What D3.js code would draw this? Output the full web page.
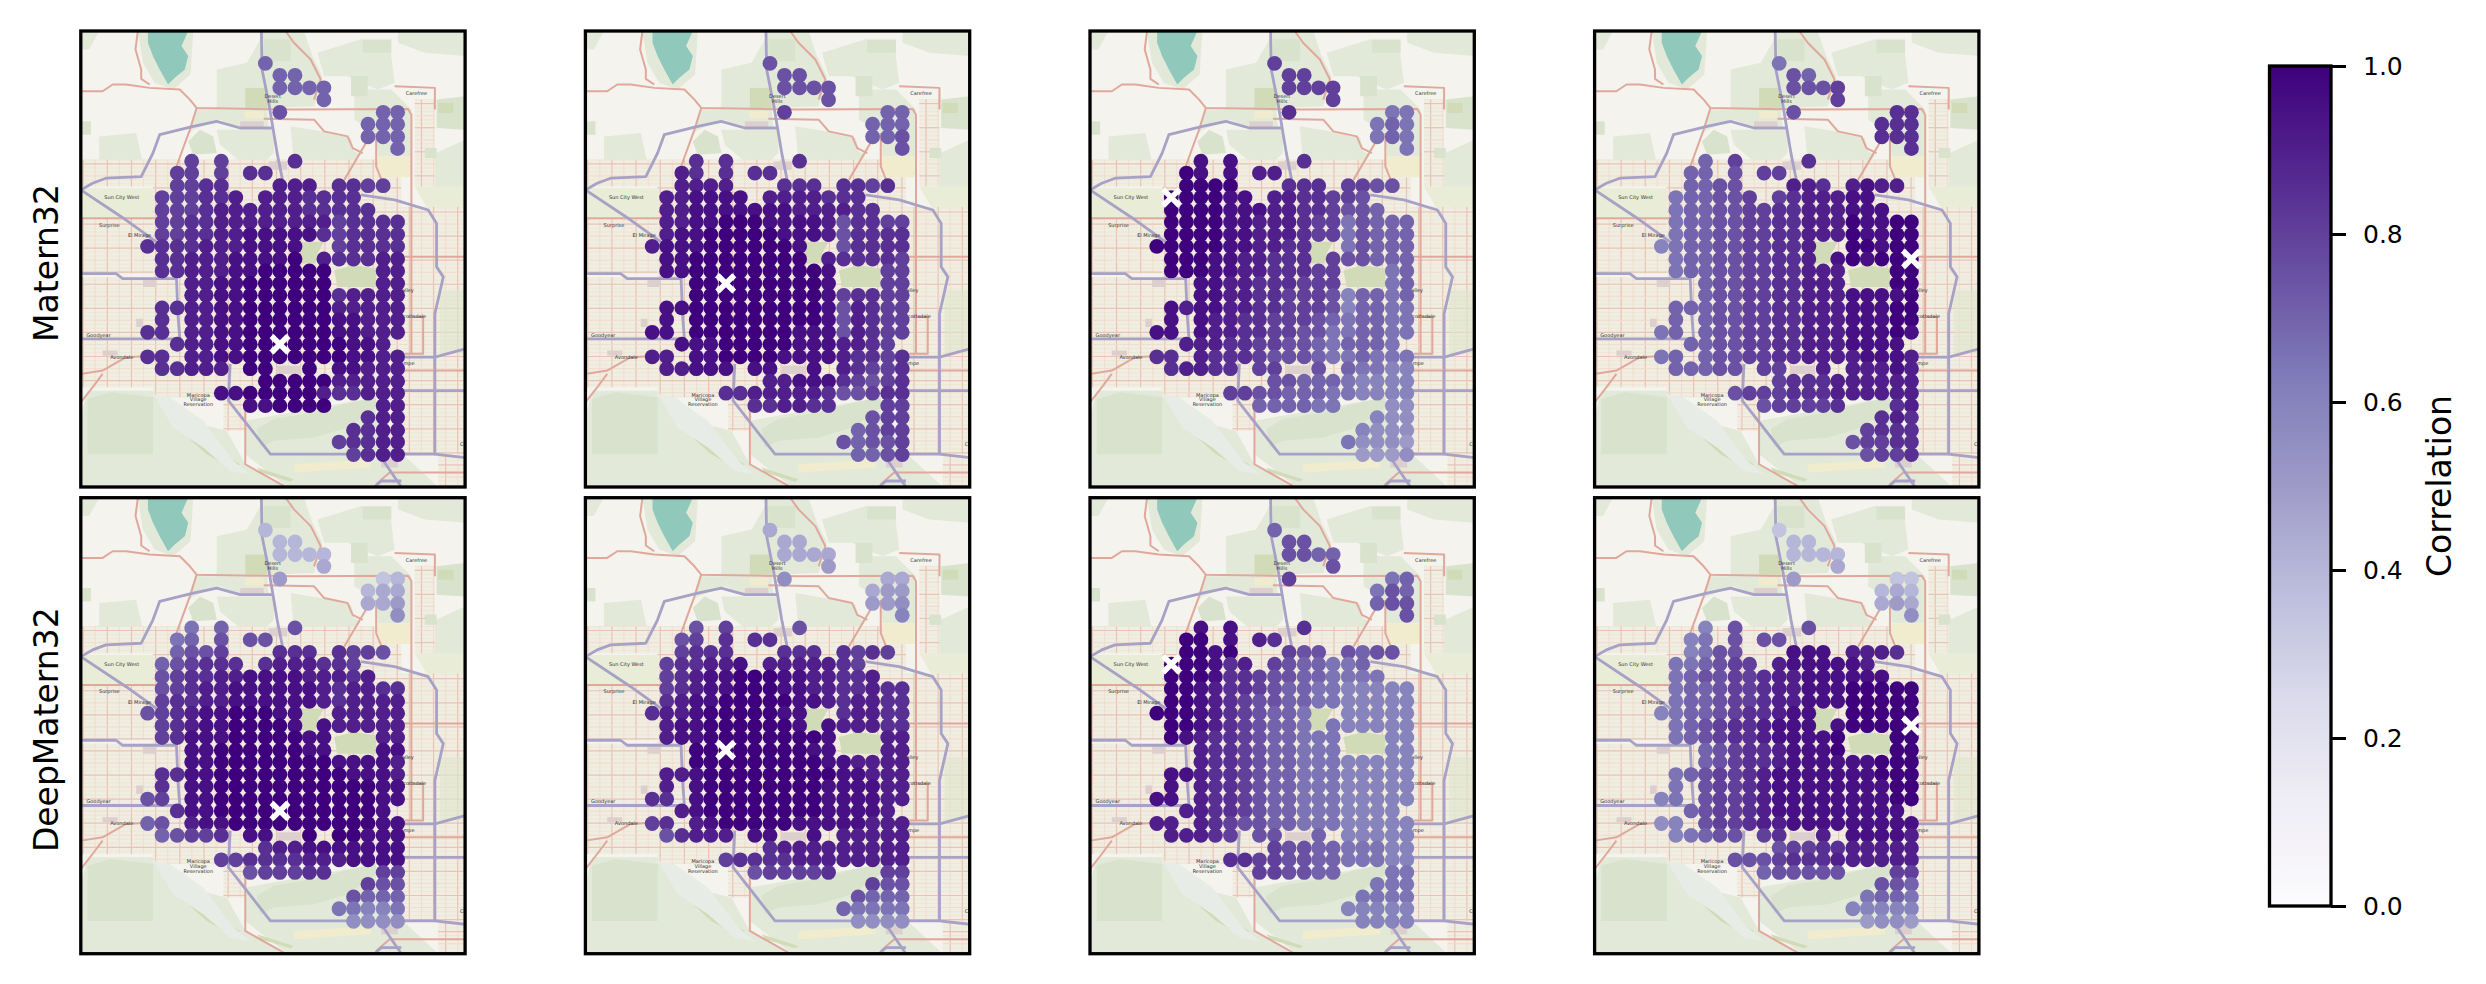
<!DOCTYPE html>
<html>
<head>
<meta charset="utf-8">
<title>Correlation maps</title>
<script src="https://cdnjs.cloudflare.com/ajax/libs/d3/7.8.5/d3.min.js"></script>
<style>
  html, body { margin: 0; padding: 0; background: #fff; }
  svg { display: block; }
  text { font-family: "DejaVu Sans", sans-serif; fill: #000; }
  .town { font-size: 5px; fill: #333; }
  .axis text { font-size: 25px; }
  .axis path { display: none; }
  .axis line { stroke: #000; stroke-width: 3px; }
</style>
</head>
<body>
<div id="chart"></div>
<script>
// grid of sensor locations
var lons = [-112.303, -112.282, -112.260, -112.239, -112.218, -112.196, -112.175, -112.154, -112.132,
  -112.111, -112.089, -112.068, -112.047, -112.025, -112.004, -111.983, -111.961, -111.940]
var lats = [33.875, 33.857, 33.838, 33.820, 33.801, 33.783, 33.764, 33.746, 33.727, 33.709, 33.690,
  33.672, 33.653, 33.635, 33.616, 33.598, 33.579, 33.561, 33.542, 33.524, 33.505, 33.487, 33.468,
  33.450, 33.431, 33.413, 33.394, 33.376, 33.357, 33.339, 33.320, 33.302, 33.283]

var rowNames = ["Matern32", "DeepMatern32"]
var colorbarTicks = [0, 0.2, 0.4, 0.6, 0.8, 1.0]

// reference point of each column of panels, as index into lons / lats
var targetCols = [9, 5, 1, 17]
var targetRows = [23, 18, 11, 16]

// correlation per grid cell, one letter per column: a=.25 b=.30 ... p=1.0, "." = no sensor
var levels = "abcdefghijklmnop"

var matern1 = [
  "........j.........",
  ".........jj.......",
  ".........jjjj.....",
  "............j.....",
  ".........k......jj",
  "...............jjj",
  "...............jjj",
  ".................j",
  "...l.l....m.......",
  "..ll.l.mm.........",
  "..llmm...nnn.mmll.",
  ".lllmmn.nnnmmmm...",
  ".lllmnnnnnnmmmmm..",
  ".llmmnnnnnnnnlmmmm",
  ".llmmnnooooomlmmmm",
  "mmmmnnnoooo..lmmmm",
  ".mmnnnoooop.nmmmnn",
  ".mmnnnooppppp...nn",
  "...nnoopppppp...nn",
  "...nnooppppppmnnnn",
  ".mmnnooppppppnnnnn",
  ".m.nnooppppppoonnn",
  "mm.nnooppppppoonnn",
  "..mnnoopppppppoon.",
  "mm.nnoopppppppoonn",
  ".mmnnn.pp..p.oonnn",
  "........pppppnnnnn",
  ".....oopppppnmmnnn",
  ".......oopppp...nn",
  "...............mnn",
  "..............mmnn",
  ".............lmmnn",
  "..............lmnn"
]

var matern2 = [
  "........k.........",
  ".........kk.......",
  ".........kkkk.....",
  "............k.....",
  ".........l......jj",
  "...............jjj",
  "...............jjk",
  ".................k",
  "...m.m....m.......",
  "..nm.m.mm.........",
  "..nnnn...mmm.mmlm.",
  ".nnoooo.nnnnmmm...",
  ".nnooooooonnnnmm..",
  ".nnoopppoooonkmmll",
  ".noopppppooonkmmmm",
  "noooppppppo..kmmmm",
  ".oopppppppp.nmmmml",
  ".oopppppppppo...ll",
  "...pppppppppo...ll",
  "...pppppppppolmmll",
  ".oopppppppppoknmll",
  ".o.pppppppppoknmll",
  "oo.pppppppoooknmll",
  "..ooopppppooonnml.",
  "nn.ooppppoooonmmlm",
  ".nnooo.oo..o.nmllm",
  "........nnooomlklm",
  ".....mmnnnnnmkklmm",
  ".......mmnnmm...ll",
  "...............kll",
  "..............jkll",
  ".............kjkkl",
  "..............jjkl"
]

var matern3 = [
  "........l.........",
  ".........ll.......",
  ".........llll.....",
  "............l.....",
  ".........m......ii",
  "...............iji",
  "...............iji",
  ".................i",
  "...o.o....m.......",
  "..po.o.nn.........",
  "..pppp...mmm.llkk.",
  ".ppppoo.nnmmllk...",
  ".ppppooonnmmlkkj..",
  ".ppppoonnnmllikjjj",
  ".ppppoonnnmllikjjj",
  "pppppoonnmm..ikjjj",
  ".pppoonnmmm.lkkjjj",
  ".pppoonnmmmll...ij",
  "...oonnmmmlll...ij",
  "...oonnmmlllkhjjij",
  ".onoonnmmlllkhjjii",
  ".o.onnmmlllkjijjii",
  "oo.onnmmllkkiijjii",
  "..nnnmmllkkjijjji.",
  "mm.nmmmlkkkjiijiii",
  ".mnnmm.ll..k.jiihh",
  "........kkjjjihhhh",
  ".....llkkjjjiihhhh",
  ".......jjjjii...gg",
  "...............hgg",
  "..............hggg",
  ".............igggf",
  "..............fffg"
]

var matern4 = [
  "........i.........",
  ".........kj.......",
  ".........kkkl.....",
  "............l.....",
  ".........k......mm",
  "...............mmm",
  "...............mmm",
  ".................m",
  "...j.l....m.......",
  "..jj.k.ll.........",
  "..jjkk...nnm.nonn.",
  ".ijjkkl.lmnnnoo...",
  ".ijjkkllmmnnnooo..",
  ".ijjkkllmmnnnpoopp",
  ".ijjkkllmmnnnpoopp",
  "hijjkkllmmn..ppopp",
  ".ijjkkllmmn.opoppp",
  ".ijjkkllmmnnn...pp",
  "...jkkllmmnnn...pp",
  "...jkkllmmnnnoooop",
  ".jjjkkllmmnnnooopp",
  ".j.jkkllmmnnnooopp",
  "ij.jkkllmmnnnooopo",
  "..jjkkllmmnnnoooo.",
  "ij.jkkllmmnnnnooon",
  ".jjjkk.ll..n.nnnon",
  "........lmmmnnnnnn",
  ".....klllmmmnnnnnn",
  ".......kllllm...mn",
  "...............mnm",
  "..............lmmm",
  ".............kllmm",
  "..............kllm"
]

var deep1 = [
  "........d.........",
  ".........dd.......",
  ".........dddd.....",
  "............e.....",
  ".........f......cd",
  "...............dee",
  "...............eef",
  ".................g",
  "...i.j....k.......",
  "..ij.k.kk.........",
  "..jkkl...mmm.mllk.",
  ".jklmmm.mnnnmml...",
  ".klmmnnoooonnnmn..",
  ".klmnnoooooonmnnmm",
  ".lmmnnoooooonmnnnn",
  "klmnoopppoo..nnnnn",
  ".lmnooppppo.onnnnn",
  ".lmooopppppoo...nn",
  "...ooppppppoo...oo",
  "...ooppppppppoooon",
  ".mmoopppppppppooon",
  ".m.oopppppppppppoo",
  "kl.oopppppppppppoo",
  "..moopppppppppppo.",
  "jk.nooppppppppppoo",
  ".jkllm.oo..p.ppooo",
  "........mnnooooooo",
  ".....llmmmmnnnoooo",
  ".......klllmm...ll",
  "...............lkk",
  "..............kjjj",
  ".............iihhi",
  "..............gggg"
]

var deep2 = [
  "........e.........",
  ".........ee.......",
  ".........eeee.....",
  "............f.....",
  ".........g......ee",
  "...............eff",
  "...............ffg",
  ".................h",
  "...k.l....k.......",
  "..kl.m.mm.........",
  "..lmmm...mmm.mlml.",
  ".lmmnno.nnnnnml...",
  ".lmnoopppoonnmmn..",
  ".lmnoopppoonnmmnmm",
  ".mnoopppppoonmnnmm",
  "mnnopppppoo..mnnmm",
  ".nooppppppo.onnnmm",
  ".nooppppppppo...nn",
  "...ppppppppoo...nn",
  "...pppppppppoonnnn",
  ".nnopppppppppoonnn",
  ".n.oppppppppoooonn",
  "mm.oppppppppoooonn",
  "..noppppppppoooon.",
  "lm.nopppppooooonnn",
  ".kmnnn.oo..o.nnnnn",
  "........mnnnnnnnnn",
  ".....lmmmmnnnnnnnn",
  ".......kllllm...ll",
  "...............lkk",
  "..............kjjj",
  ".............jiiii",
  "..............gggg"
]

var deep3 = [
  "........j.........",
  ".........kk.......",
  ".........kkjj.....",
  "............k.....",
  ".........l......ij",
  "...............ikj",
  "...............jkk",
  ".................k",
  "...o.o....m.......",
  "..pp.o.nm.........",
  "..ppop...lkk.kjkk.",
  ".pppomn.lkjjiij...",
  ".pppommlkkjjiiii..",
  ".pponmmlkjjiihhhhh",
  ".pponmlkkjjiihhhhh",
  "ppponmlkjji..hhhhh",
  ".pponmlkjji.ihhhhh",
  ".ponmmlkjjiii...hh",
  "...nmmlkjjiii...hh",
  "...nmmlkjjiiihhhhh",
  ".oonmmlkjjiiihhhhh",
  ".o.nmmlkjjiiihhhhh",
  "oo.nmmlkjjiiihhhhh",
  "..nnmmlkjjiiihhhh.",
  "nn.nmlkkjjiiihhhhh",
  ".nnnml.kk..j.hhhhh",
  "........lkkjjiiihh",
  ".....mmllkkjjiiihh",
  ".......llkkjj...ii",
  "...............iii",
  "..............iiii",
  ".............hhhhh",
  "..............hhhh"
]

var deep4 = [
  "........c.........",
  ".........dd.......",
  ".........dddd.....",
  "............e.....",
  ".........f......cc",
  "...............ded",
  "...............efe",
  ".................g",
  "...h.k....k.......",
  "..hi.k.kk.........",
  "..hikk...ooo.nnnm.",
  ".iijkll.nooooon...",
  ".ijkkllmnnoooooo..",
  ".ijjkllmnnoooppppp",
  ".ijjkllmnnoooppppp",
  "hijjklmmnoo..ppppp",
  ".ijklmmnooo.oppppp",
  ".ijklmmnoooop...pp",
  "...jklmmnooop...pp",
  "...jklmmnooooooppp",
  ".ijkllmnoooooooppp",
  ".i.kllmnoooooooopp",
  "hi.kllmnoooooooopp",
  "..jkllmnooooooooo.",
  "gh.kllmnnooooooooo",
  ".hijkk.lm..n.oooon",
  "........kllmmnnnnn",
  ".....kkklmmmnnnnnn",
  ".......jkkkkk...ll",
  "...............kkj",
  "..............ijji",
  ".............hhhhh",
  "..............fggf"
]

var panels = [
  [matern1, matern2, matern3, matern4],
  [deep1, deep2, deep3, deep4]
]

// basemap features, in map units of the tile picture
var greenAreas = [
  [[1010, 35], [1210, 35], [1210, 110], [1090, 100], [1010, 70]],
  [[770, 100], [900, 60], [990, 60], [990, 110], [1000, 190], [950, 210], [900, 190], [860, 170], [790, 170]],
  [[470, 150], [560, 130], [600, 60], [610, 35], [730, 35], [755, 110], [785, 170], [760, 260], [620, 265], [470, 265]],
  [[410, 270], [620, 270], [625, 325], [540, 325], [480, 300], [400, 330], [385, 345], [395, 300]],
  [[470, 330], [640, 330], [640, 400], [600, 440], [540, 425], [480, 375]],
  [[690, 320], [780, 335], [870, 355], [880, 395], [900, 405], [850, 470], [770, 470], [700, 430]],
  [[880, 210], [990, 210], [1050, 270], [1050, 410], [950, 410], [945, 340], [880, 300]],
  [[1100, 410], [1210, 360], [1210, 560], [1120, 560]],
  [[65, 1190], [85, 1110], [280, 1110], [380, 1200], [500, 1230], [555, 1330], [680, 1398], [65, 1398]],
  [[555, 1200], [945, 1130], [945, 1180], [1030, 1305], [1130, 1398], [680, 1398], [555, 1300]],
  [[520, 490], [635, 470], [640, 520], [520, 520]],
  [[65, 90], [90, 90], [120, 35], [65, 35]],
  [[120, 350], [230, 340], [250, 430], [120, 420]],
  [[235, 35], [400, 35], [392, 165], [340, 210], [285, 190], [250, 130]]
]
var darkGreenAreas = [
  [[610, 60], [690, 60], [690, 125], [610, 125]],
  [[905, 62], [990, 62], [990, 100], [905, 100]],
  [[870, 170], [920, 170], [920, 230], [870, 230]],
  [[1125, 240], [1210, 230], [1210, 330], [1125, 325]],
  [[385, 365], [420, 330], [460, 350], [470, 400], [400, 405]],
  [[85, 1135], [155, 1115], [280, 1130], [280, 1300], [85, 1300]],
  [[590, 1225], [640, 1195], [760, 1175], [850, 1150], [945, 1130], [945, 1160], [860, 1220], [760, 1250], [640, 1260], [600, 1280]],
  [[65, 305], [95, 305], [95, 345], [65, 345]],
  [[1090, 385], [1125, 385], [1125, 415], [1090, 415]]
]
var oliveAreas = [
  [[555, 205], [620, 205], [620, 265], [555, 265]],
  [[820, 750], [880, 735], [945, 745], [945, 800], [830, 800]],
  [[720, 665], [790, 665], [770, 700], [765, 730], [720, 730]],
  [[1130, 250], [1175, 250], [1175, 280], [1130, 280]],
  [[400, 1240], [460, 1290], [540, 1330], [520, 1345], [440, 1300], [390, 1255]],
  [[590, 1340], [700, 1375], [690, 1382], [600, 1355]]
]
var yellowAreas = [
  [[555, 275], [610, 275], [610, 297], [555, 297]],
  [[950, 410], [1050, 410], [1050, 472], [950, 472]],
  [[700, 1330], [930, 1315], [930, 1340], [700, 1355]]
]
var suburbAreas = [
  [[65, 505], [285, 505], [285, 592], [65, 592]],
  [[1060, 500], [1210, 500], [1210, 620], [1130, 620]],
  [[1135, 810], [1210, 810], [1210, 1000], [1135, 1000]]
]
var waterAreas = [
  [[265, 35], [385, 35], [365, 80], [385, 110], [375, 150], [345, 175], [325, 195], [300, 150], [280, 110], [265, 70]]
]
var riverAreas = [
  [[280, 1120], [330, 1130], [430, 1200], [520, 1320], [570, 1360], [510, 1350], [430, 1280], [340, 1220]]
]
var purpleBlocks = [
  [[250, 778], [290, 778], [290, 800], [250, 800]],
  [[540, 305], [610, 305], [610, 325], [540, 325]],
  [[625, 425], [680, 425], [680, 450], [625, 450]],
  [[650, 1035], [720, 1035], [720, 1060], [650, 1060]],
  [[230, 895], [250, 895], [250, 920], [230, 920]],
  [[130, 990], [175, 990], [175, 1005], [130, 1005]],
  [[960, 1310], [1010, 1310], [1010, 1340], [960, 1340]]
]
// street grids: left, top, right, bottom
var streetAreas = [
  [65, 420, 280, 500],
  [65, 595, 290, 760],
  [65, 770, 350, 1100],
  [280, 420, 1020, 1130],
  [1020, 560, 1210, 1300],
  [1130, 1300, 1210, 1398],
  [1060, 240, 1120, 500],
  [490, 1130, 560, 1230]
]
var arterials = [
  [[65, 215], [130, 215], [160, 195], [200, 195], [270, 205], [360, 210], [390, 240], [410, 265], [700, 270], [1040, 268], [1050, 285], [1050, 1000]],
  [[410, 265], [390, 330], [350, 440]],
  [[610, 297], [760, 300], [790, 335], [860, 350], [875, 385], [905, 400]],
  [[850, 480], [920, 360]],
  [[945, 340], [945, 440], [965, 490]],
  [[675, 35], [700, 70], [750, 120], [780, 180], [760, 240]],
  [[235, 35], [228, 90], [245, 150], [245, 178], [270, 195]],
  [[555, 1130], [555, 1330], [670, 1395]],
  [[65, 595], [290, 595]],
  [[1030, 710], [1210, 710]],
  [[1020, 1050], [1210, 1050]],
  [[65, 1060], [130, 1050], [200, 1010], [290, 1005]],
  [[65, 1145], [100, 1100], [130, 1060]],
  [[945, 1390], [985, 1355], [1210, 1355]],
  [[1040, 890], [1085, 890], [1085, 1000], [1030, 1000]],
  [[1000, 200], [1120, 205], [1120, 270]]
]
var freeways = [
  [[603, 35], [605, 150], [625, 250], [650, 400], [668, 490]],
  [[65, 510], [100, 490], [140, 475], [245, 470], [280, 400], [300, 345], [400, 320], [470, 305], [540, 325], [640, 325]],
  [[65, 510], [200, 600], [290, 665]],
  [[900, 525], [1000, 540], [1100, 570], [1125, 610], [1125, 740], [1145, 770], [1120, 880], [1120, 1300], [1210, 1310]],
  [[65, 760], [170, 760], [190, 775], [350, 775], [355, 890], [360, 955], [65, 955]],
  [[510, 1030], [505, 1140], [630, 1300], [1120, 1300]],
  [[960, 1310], [1020, 1398]],
  [[940, 1398], [960, 1380], [1020, 1380]],
  [[1030, 1010], [1120, 1010], [1210, 985]],
  [[1020, 1110], [1210, 1110]]
]
var towns = [
  ["Sun City West", 187, 538], ["Surprise", 150, 620], ["El Mirage", 240, 652], ["Goodyear", 118, 949],
  ["Avondale", 187, 1014], ["Maricopa", 415, 1128], ["Village", 415, 1142], ["Reservation", 415, 1157],
  ["Carefree", 1065, 226], ["Desert", 637, 236], ["Hills", 637, 250], ["Scottsdale", 1055, 894],
  ["Tempe", 1035, 1034], ["Valley", 1035, 816], ["Ch", 1205, 1276]
]

var width = 2486, height = 984,
  panelWidth = 384.3, panelHeight = 456,
  panelGapX = 504.6, panelGapY = 466.7,
  panelLeft = 80.8, panelTop = 31

var svg = d3.select("#chart").append("svg")
  .attr("width", width)
  .attr("height", height)

var defs = svg.append("defs")

defs.append("clipPath").attr("id", "panel-clip")
  .append("rect")
  .attr("width", panelWidth)
  .attr("height", panelHeight)

defs.append("filter").attr("id", "soften")
  .append("feGaussianBlur")
  .attr("stdDeviation", 0.55)

// scales
var lonScale = d3.scaleLinear().domain([-112.40, -111.842]).range([0, panelWidth])
var latScale = d3.scaleLinear().domain([33.924, 33.234]).range([0, panelHeight])
var mapX = d3.scaleLinear().domain([65, 1210]).range([0, panelWidth])
var mapY = d3.scaleLinear().domain([35, 1398]).range([0, panelHeight])

var purples = d3.schemePurples[9]
var colorScale = d3.scaleLinear()
  .domain(purples.map(function(d, i) { return i / (purples.length - 1) }))
  .range(purples)

var mapLine = d3.line()
  .x(function(d) { return mapX(d[0]) })
  .y(function(d) { return mapY(d[1]) })

function drawAreas(g, areas, color) {
  g.selectAll(null)
    .data(areas)
    .enter().append("path")
    .attr("d", function(d) { return mapLine(d) + "Z" })
    .attr("fill", color)
}

function drawLines(g, lines, color, strokeWidth) {
  g.selectAll(null)
    .data(lines)
    .enter().append("path")
    .attr("d", function(d) { return mapLine(d) })
    .attr("fill", "none")
    .attr("stroke", color)
    .attr("stroke-width", strokeWidth)
    .attr("stroke-linejoin", "round")
}

function drawStreets(g) {
  streetAreas.forEach(function(a) {
    g.append("rect")
      .attr("x", mapX(a[0]))
      .attr("y", mapY(a[1]))
      .attr("width", mapX(a[2]) - mapX(a[0]))
      .attr("height", mapY(a[3]) - mapY(a[1]))
      .attr("fill", "#f1ede2")

    var xs = d3.range(Math.ceil(a[0] / 36) * 36, a[2], 36)
    var ys = d3.range(Math.ceil(a[1] / 36) * 36, a[3], 36)
    var fine = d3.range(Math.ceil(a[1] / 12) * 12, a[3], 12)

    fine.forEach(function(v) {
      g.append("path")
        .attr("d", mapLine([[a[0], v], [a[2], v]]))
        .attr("stroke", "#e6e6cf")
        .attr("stroke-width", 0.6)
    })
    xs.forEach(function(u, i) {
      g.append("path")
        .attr("d", mapLine([[u, a[1]], [u, a[3]]]))
        .attr("stroke", i % 2 ? "#f0dbcd" : "#e9c4b6")
        .attr("stroke-width", i % 2 ? 0.9 : 1.2)
    })
    ys.forEach(function(v, i) {
      g.append("path")
        .attr("d", mapLine([[a[0], v], [a[2], v]]))
        .attr("stroke", i % 2 ? "#f0dbcd" : "#e9c4b6")
        .attr("stroke-width", i % 2 ? 0.9 : 1.2)
    })
  })
}

function drawBasemap(g) {
  var map = g.append("g").attr("filter", "url(#soften)")

  map.append("rect")
    .attr("width", panelWidth)
    .attr("height", panelHeight)
    .attr("fill", "#f5f3ee")

  drawAreas(map, greenAreas, "#e2e9d9")
  drawAreas(map, suburbAreas, "#e9ecd6")
  drawStreets(map)
  drawAreas(map, suburbAreas.slice(2), "rgba(222,230,205,0.6)")
  drawAreas(map, darkGreenAreas, "#d8e2cc")
  drawAreas(map, oliveAreas, "#d2dbb8")
  drawAreas(map, yellowAreas, "#f1ecce")
  drawAreas(map, riverAreas, "#e7ede6")
  drawAreas(map, purpleBlocks, "#dccfcd")
  drawAreas(map, waterAreas, "#90c8bc")
  drawLines(map, arterials, "#e0a89b", 2)
  drawLines(map, freeways, "#a7a1c5", 2.8)

  g.selectAll(".town")
    .data(towns)
    .enter().append("text")
    .attr("class", "town")
    .attr("x", function(d) { return mapX(d[1]) })
    .attr("y", function(d) { return mapY(d[2]) })
    .attr("text-anchor", "middle")
    .text(function(d) { return d[0] })
}

function drawPanel(rowIndex, colIndex) {
  var rows = panels[rowIndex][colIndex]
  var points = []
  rows.forEach(function(row, r) {
    row.split("").forEach(function(ch, c) {
      if (ch !== ".") {
        points.push({ lon: lons[c], lat: lats[r], value: 0.25 + 0.05 * levels.indexOf(ch) })
      }
    })
  })

  var g = svg.append("g")
    .attr("transform", "translate(" + (panelLeft + colIndex * panelGapX) + "," + (panelTop + rowIndex * panelGapY) + ")")

  var inner = g.append("g").attr("clip-path", "url(#panel-clip)")
  drawBasemap(inner)

  inner.selectAll(".dot")
    .data(points)
    .enter().append("circle")
    .attr("class", "dot")
    .attr("cx", function(d) { return lonScale(d.lon) })
    .attr("cy", function(d) { return latScale(d.lat) })
    .attr("r", 7.4)
    .attr("fill", function(d) { return colorScale(d.value) })

  // white cross on the reference location
  var cx = lonScale(lons[targetCols[colIndex]]),
    cy = latScale(lats[targetRows[colIndex]]),
    armLength = 8.2,
    cross = d3.path()
  cross.moveTo(cx - armLength, cy - armLength)
  cross.lineTo(cx + armLength, cy + armLength)
  cross.moveTo(cx - armLength, cy + armLength)
  cross.lineTo(cx + armLength, cy - armLength)

  inner.append("path")
    .attr("d", cross.toString())
    .attr("fill", "none")
    .attr("stroke", "#fff")
    .attr("stroke-width", 5.5)

  g.append("rect")
    .attr("width", panelWidth)
    .attr("height", panelHeight)
    .attr("fill", "none")
    .attr("stroke", "#000")
    .attr("stroke-width", 3.3)
}

d3.range(2).forEach(function(r) {
  d3.range(4).forEach(function(c) {
    drawPanel(r, c)
  })
})

// row labels
svg.selectAll(".row-label")
  .data(rowNames)
  .enter().append("text")
  .attr("class", "row-label")
  .attr("transform", function(d, i) {
    return "translate(46," + (panelTop + panelHeight / 2 + 4 + i * panelGapY) + ") rotate(-90)"
  })
  .attr("text-anchor", "middle")
  .attr("dominant-baseline", "central")
  .style("font-size", "33px")
  .text(function(d) { return d })

// colorbar
var cbLeft = 2269.5, cbRight = 2331, cbTop = 66, cbBottom = 906

var gradient = defs.append("linearGradient")
  .attr("id", "cb-gradient")
  .attr("x1", 0).attr("x2", 0)
  .attr("y1", 1).attr("y2", 0)

gradient.selectAll("stop")
  .data(purples)
  .enter().append("stop")
  .attr("offset", function(d, i) { return i / (purples.length - 1) })
  .attr("stop-color", function(d) { return d })

svg.append("rect")
  .attr("x", cbLeft)
  .attr("y", cbTop)
  .attr("width", cbRight - cbLeft)
  .attr("height", cbBottom - cbTop)
  .attr("fill", "url(#cb-gradient)")

var cbScale = d3.scaleLinear().domain([0, 1]).range([cbBottom, cbTop])

svg.append("g")
  .attr("class", "axis")
  .attr("transform", "translate(" + cbRight + ",0)")
  .call(d3.axisRight(cbScale).tickValues(colorbarTicks).tickSize(15).tickPadding(17).tickFormat(d3.format(".1f")))

svg.append("rect")
  .attr("x", cbLeft)
  .attr("y", cbTop)
  .attr("width", cbRight - cbLeft)
  .attr("height", cbBottom - cbTop)
  .attr("fill", "none")
  .attr("stroke", "#000")
  .attr("stroke-width", 3.3)

svg.append("text")
  .attr("transform", "translate(2439," + (cbTop + cbBottom) / 2 + ") rotate(-90)")
  .attr("text-anchor", "middle")
  .attr("dominant-baseline", "central")
  .style("font-size", "33px")
  .text("Correlation")
</script>
</body>
</html>
